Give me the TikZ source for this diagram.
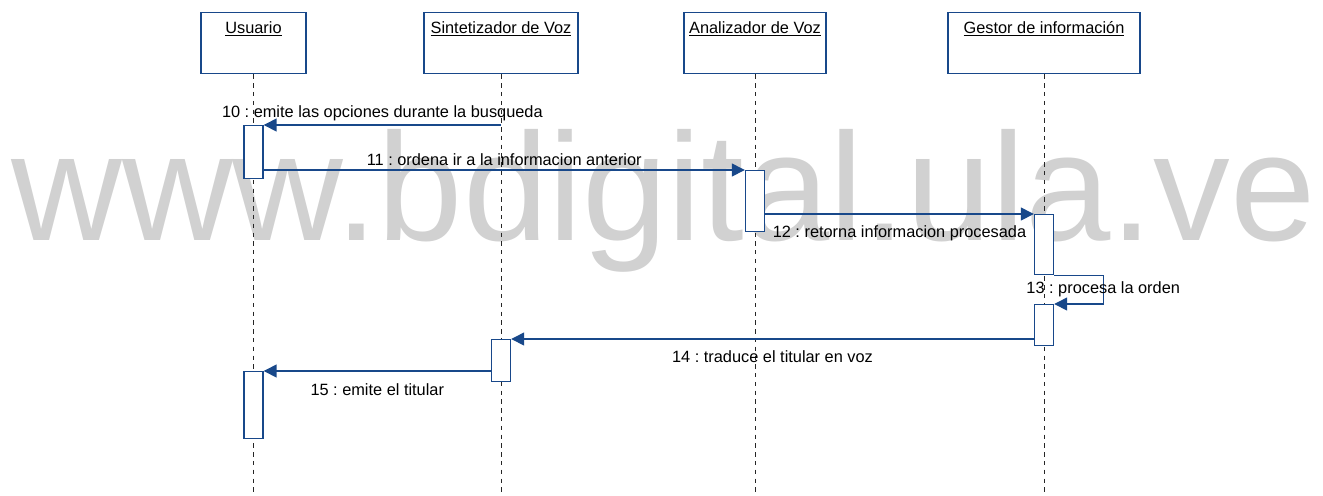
\documentclass[tikz,border=0pt]{standalone}
\usepackage{fontspec}
\setmainfont{Liberation Sans}
\frenchspacing
\usetikzlibrary{arrows.meta,calc}
\definecolor{umlblue}{RGB}{24,72,138}
\tikzset{objbox/.style={draw=umlblue,line width=0.8pt,fill=white,anchor=north,minimum height=1.22cm,inner sep=0pt}}
\tikzset{objname/.style={font=\fontsize{9.3}{11}\selectfont,inner sep=0pt}}
\tikzset{lifeline/.style={dash pattern=on 2.5pt off 2.5pt,line width=0.5pt,draw=black!85}}
\tikzset{actbox/.style={draw=umlblue,line width=0.8pt,fill=white,anchor=north,minimum width=0.38cm,inner sep=0pt}}
\tikzset{msg/.style={draw=umlblue,line width=0.8pt,-{Triangle[length=0.26cm,width=0.26cm]}}}
\tikzset{msglabel/.style={font=\fontsize{9.3}{11}\selectfont,inner sep=2pt}}

\begin{document}
\begin{tikzpicture}[x=0.02cm,y=-0.02cm]
  \useasboundingbox (0,0) rectangle (1323,495);

  % watermark
  \node [anchor=base west,text=black!18,inner sep=0pt,font=\fontsize{87.3}{90}\selectfont] (wm) at (11,240) {www.bdigital.ula.ve};

  % objects
  \node [objbox,minimum width=2.1cm]  (usuario)      at (253.5,12) {};
  \node [objbox,minimum width=3.08cm] (sintetizador) at (501,12)   {};
  \node [objbox,minimum width=2.84cm] (analizador)   at (755,12)   {};
  \node [objbox,minimum width=3.84cm] (gestor)       at (1044,12)  {};

  \node [objname] (nusuario) at ($(usuario.north)+(0,17)$)      {\underline{Usuario}};
  \node [objname] (nsint)    at ($(sintetizador.north)+(0,17)$) {\underline{Sintetizador de Voz}};
  \node [objname] (nanal)    at ($(analizador.north)+(0,17)$)   {\underline{Analizador de Voz}};
  \node [objname] (ngestor)  at ($(gestor.north)+(0,17)$)       {\underline{Gestor de información}};

  % lifelines
  \draw [lifeline] (usuario.south)      -- (usuario.south |- 0,495);
  \draw [lifeline] (sintetizador.south) -- (sintetizador.south |- 0,495);
  \draw [lifeline] (analizador.south)   -- (analizador.south |- 0,495);
  \draw [lifeline] (gestor.south)       -- (gestor.south |- 0,495);

  % activations
  \node [actbox,minimum height=1.06cm] (u1) at (usuario.south |- 0,125)      {};
  \node [actbox,minimum height=1.22cm] (a1) at (analizador.south |- 0,170)   {};
  \node [actbox,minimum height=1.2cm]  (g1) at (gestor.south |- 0,214)       {};
  \node [actbox,minimum height=0.82cm] (g2) at (gestor.south |- 0,304)       {};
  \node [actbox,minimum height=0.84cm] (s1) at (sintetizador.south |- 0,339) {};
  \node [actbox,minimum height=1.34cm] (u2) at (usuario.south |- 0,371)      {};

  % messages
  \coordinate (m10) at (sintetizador.south |- u1.north);
  \draw [msg] (m10) -- node[msglabel,above] {10 : emite las opciones durante la busqueda} (u1.north east);
  \draw [msg] (u1.east |- a1.north) -- node[msglabel,above] {11 : ordena ir a la informacion anterior} (a1.north west);
  \draw [msg] (a1.east |- g1.north) -- node[msglabel,below=4pt] {12 : retorna informacion procesada} (g1.north west);
  \draw [msg] (g1.south east) -- ++(49,0) |- node[msglabel,pos=0.25] {13 : procesa la orden} (g2.north east);
  \draw [msg] (g2.west |- s1.north) -- node[msglabel,below=4.5pt] {14 : traduce el titular en voz} (s1.north east);
  \draw [msg] (s1.west |- u2.north) -- node[msglabel,below=5pt] {15 : emite el titular} (u2.north east);
\end{tikzpicture}
\end{document}
